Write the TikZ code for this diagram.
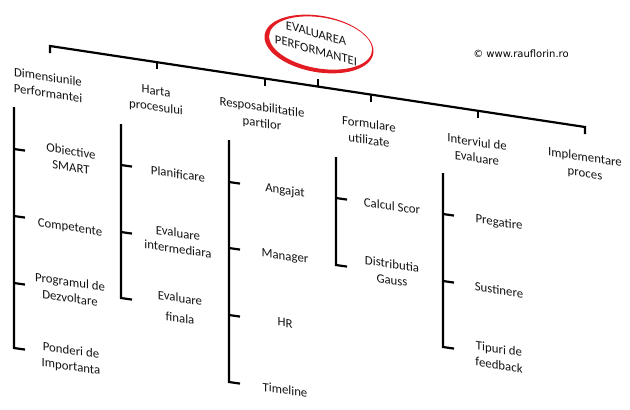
\documentclass[tikz,border=0pt]{standalone}
\usepackage{fontspec}
\setmainfont{Carlito}
\newfontfamily\copyfont{DejaVu Sans}
\definecolor{ovalred}{RGB}{226,28,34}
\begin{document}
\begin{tikzpicture}[x=1pt,y=-1pt,
  ln/.style={line width=2.2pt, line cap=butt, line join=miter},
  lbl/.style={font=\fontsize{12.8}{16}\selectfont, align=center, yslant=-0.15, inner sep=0pt, text=black!92},
]
\useasboundingbox (0,0) rectangle (630,410);

% ---- top line
\coordinate (L0) at (50,53);
\coordinate (L) at (50,46);
\coordinate (R) at (585,127);
\coordinate (R0) at (585,134);
\draw[ln] (L0) -- (L) -- (R) -- (R0);
\foreach \n/\x/\y in {1/157/62.2, 2/265/78.55, 3/371/94.6, 4/478/110.8}{
  \coordinate (a\n) at (\x,\y);
  \coordinate (a\n d) at (\x,\y+7.2);
  \draw[ln] (a\n) -- (a\n d);
}
\coordinate (ac) at (318,86.6);
\coordinate (acu) at (318,78.5);
\draw[ln] (ac) -- (acu);

% ---- oval
\begin{scope}[shift={(319,44)}, yslant=-0.13]
  \fill[ovalred, even odd rule]
    (0,0) ellipse [x radius=54.5pt, y radius=28.5pt]
    (1.6,-1.2) ellipse [x radius=51.5pt, y radius=25.8pt];
\end{scope}
\node[lbl, font=\fontsize{12.6}{17}\selectfont, yslant=-0.13] (root) at (316,42) {EVALUAREA\\PERFORMANTEI};

\node[font=\copyfont\fontsize{10}{12}\selectfont, inner sep=0pt] (copy) at (521,54) {© www.rauflorin.ro};

% ---- categories
\node[lbl] (c1) at (48,85)  {Dimensiunile\\Performantei};
\node[lbl] (c2) at (156,100) {Harta\\procesului};
\node[lbl] (c3) at (262,116) {Resposabilitatile\\partilor};
\node[lbl] (c4) at (369,132) {Formulare\\utilizate};
\node[lbl] (c5) at (477,150) {Interviul de\\Evaluare};
\node[lbl] (c6) at (585,166) {Implementare\\proces};

% ---- brackets
% 1
\coordinate (b1t) at (14,107);
\coordinate (b1b) at (14,348);
\coordinate (b1be) at (25,349.6);
\draw[ln] (b1t) -- (b1b) -- (b1be);
\foreach \n/\y in {1/149, 2/216, 3/283}{
  \coordinate (b1-\n) at (14,\y);
  \coordinate (b1-\n e) at (25,\y+1.6);
  \draw[ln] (b1-\n) -- (b1-\n e);
}
% 2
\coordinate (b2t) at (121,124);
\coordinate (b2b) at (121,298);
\coordinate (b2be) at (132,299.6);
\draw[ln] (b2t) -- (b2b) -- (b2be);
\foreach \n/\y in {1/165, 2/232}{
  \coordinate (b2-\n) at (121,\y);
  \coordinate (b2-\n e) at (132,\y+1.6);
  \draw[ln] (b2-\n) -- (b2-\n e);
}
% 3
\coordinate (b3t) at (229,140);
\coordinate (b3b) at (229,382);
\coordinate (b3be) at (240,383.6);
\draw[ln] (b3t) -- (b3b) -- (b3be);
\foreach \n/\y in {1/182, 2/248, 3/315}{
  \coordinate (b3-\n) at (229,\y);
  \coordinate (b3-\n e) at (240,\y+1.6);
  \draw[ln] (b3-\n) -- (b3-\n e);
}
% 4
\coordinate (b4t) at (336,157);
\coordinate (b4b) at (336,265);
\coordinate (b4be) at (347,266.6);
\draw[ln] (b4t) -- (b4b) -- (b4be);
\coordinate (b4-1) at (336,198);
\coordinate (b4-1e) at (347,199.6);
\draw[ln] (b4-1) -- (b4-1e);
% 5
\coordinate (b5t) at (443,173);
\coordinate (b5b) at (443,347);
\coordinate (b5be) at (454,348.6);
\draw[ln] (b5t) -- (b5b) -- (b5be);
\foreach \n/\y in {1/214, 2/281}{
  \coordinate (b5-\n) at (443,\y);
  \coordinate (b5-\n e) at (454,\y+1.6);
  \draw[ln] (b5-\n) -- (b5-\n e);
}

% ---- children
\node[lbl] (d11) at (71,159) {Obiective\\SMART};
\node[lbl] (d12) at (70,228) {Competente};
\node[lbl] (d13) at (70,290) {Programul de\\Dezvoltare};
\node[lbl] (d14) at (71,359) {Ponderi de\\Importanta};

\node[lbl] (d21) at (178,174) {Planificare};
\node[lbl] (d22) at (178,241) {Evaluare\\intermediara};
\node[lbl] (d23) at (180,308) {Evaluare\\[4pt]finala};

\node[lbl] (d31) at (285,191) {Angajat};
\node[lbl] (d32) at (285,257) {Manager};
\node[lbl] (d33) at (285,323) {HR};
\node[lbl] (d34) at (285,390) {Timeline};

\node[lbl] (d41) at (392,206) {Calcul Scor};
\node[lbl] (d42) at (392,272) {Distributia\\Gauss};

\node[lbl] (d51) at (499,223) {Pregatire};
\node[lbl] (d52) at (499,290) {Sustinere};
\node[lbl] (d53) at (499,357) {Tipuri de\\feedback};
\end{tikzpicture}
\end{document}
